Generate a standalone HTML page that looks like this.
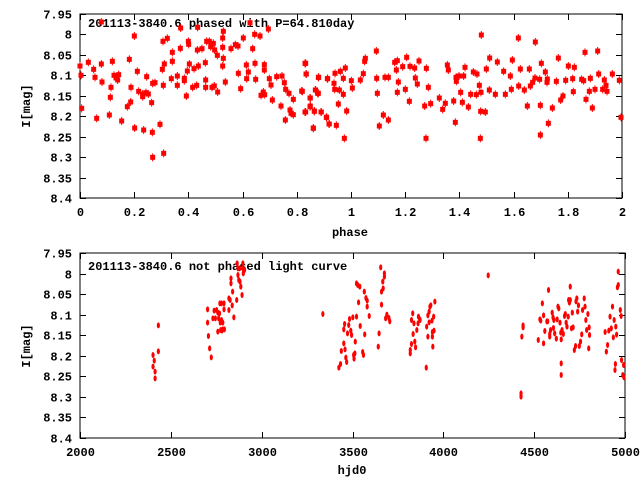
<!DOCTYPE html>
<html><head><meta charset="utf-8"><style>
body{margin:0;background:#fff}
svg{display:block}
text{font-family:"Liberation Mono","DejaVu Sans Mono",monospace;font-size:12px;font-weight:bold;fill:#000}
</style></head><body>
<svg id="s" width="640" height="480" xmlns="http://www.w3.org/2000/svg">
<rect x="80" y="14" width="542" height="184" fill="none" stroke="#000" stroke-width="1"/>
<rect x="80" y="253" width="545" height="185" fill="none" stroke="#000" stroke-width="1"/>
<g id="ticks" stroke="#000" stroke-width="1"></g>
<g id="labels"></g>
<text x="88" y="27">201113-3840.6 phased with P=64.810day</text>
<text x="88" y="270">201113-3840.6 not phased light curve</text>
<text x="350" y="236" text-anchor="middle">phase</text>
<text x="352" y="474" text-anchor="middle">hjd0</text>
<text transform="translate(30,106) rotate(-90)" text-anchor="middle">I[mag]</text>
<text transform="translate(30,346) rotate(-90)" text-anchor="middle">I[mag]</text>
<g id="pts" fill="#f00" stroke="#f00"></g>
</svg>
<script>
var NS="http://www.w3.org/2000/svg";
function el(p,t,a,txt){var e=document.createElementNS(NS,t);for(var k in a)e.setAttribute(k,a[k]);if(txt!==undefined)e.textContent=txt;document.getElementById(p).appendChild(e);}
var ylab=["7.95","8","8.05","8.1","8.15","8.2","8.25","8.3","8.35","8.4"];
// top
for(var i=0;i<10;i++){var y=14+i*184/9;y=Math.round(y)+0.5;
 el("ticks","line",{x1:80,x2:86,y1:y,y2:y});el("ticks","line",{x1:616,x2:622,y1:y,y2:y});
 el("labels","text",{x:72,y:y+4,"text-anchor":"end"},ylab[i]);}
var xl=["0","0.2","0.4","0.6","0.8","1","1.2","1.4","1.6","1.8","2"];
for(var i=0;i<11;i++){var x=Math.round(80+i*54.2)+0.5;
 el("ticks","line",{x1:x,x2:x,y1:14,y2:20});el("ticks","line",{x1:x,x2:x,y1:192,y2:198});
 el("labels","text",{x:x,y:216,"text-anchor":"middle"},xl[i]);}
// bottom
for(var i=0;i<10;i++){var y=253+i*185/9;y=Math.round(y)+0.5;
 el("ticks","line",{x1:80,x2:86,y1:y,y2:y});el("ticks","line",{x1:619,x2:625,y1:y,y2:y});
 el("labels","text",{x:72,y:y+4,"text-anchor":"end"},ylab[i]);}
var xb=["2000","2500","3000","3500","4000","4500","5000"];
for(var i=0;i<7;i++){var x=Math.round(80+i*545/6)+0.5;
 el("ticks","line",{x1:x,x2:x,y1:253,y2:259});el("ticks","line",{x1:x,x2:x,y1:432,y2:438});
 el("labels","text",{x:x,y:456,"text-anchor":"middle"},xb[i]);}
var z1=[[240,198],[243,226],[245,325],[265,187],[281,208],[285,232],[290,355],[304,192],[304,66],[306,246],[328,345],[333,262],[331,292],[337,184],[342,226],[348,234],[353,240],[356,224],[365,363],[388,178],[393,262],[392,306],[382,320],[403,108],[404,384],[412,214],[416,274],[428,282],[428,290],[431,390],[438,278],[440,230],[445,282],[455,308],[457,397],[458,472],[458,250],[465,248],[480,373],[487,208],[490,256],[489,124],[493,192],[502,115],[491,460],[514,236],[517,184],[517,157],[532,256],[532,228],[541,145],[542,84],[553,235],[553,242],[559,288],[562,213],[565,124],[566,133],[568,192],[578,262],[582,206],[590,256],[592,150],[593,82],[595,198],[606,146],[616,188],[617,240],[617,262],[620,124],[628,124],[632,140],[636,262],[640,130],[643,258],[644,150],[652,166],[653,276],[668,114],[668,142],[668,198],[670,175],[670,94],[676,246],[693,146],[706,134],[714,138],[715,220],[722,266],[730,114],[739,195],[740,236],[745,216],[750,68],[758,146],[764,103],[765,190],[767,238],[780,108],[783,286],[790,276],[793,194],[793,210],[794,284],[805,87],[808,236],[813,255],[817,300],[830,230],[846,228],[843,318],[853,248],[856,360],[857,268],[867,280],[870,330],[873,340],[880,298],[880,344],[907,274],[915,336],[915,190],[918,222],[930,320],[930,294],[940,384],[943,334],[946,270],[953,280],[955,232],[963,336],[980,352],[982,236],[987,372]];
var z2=[[5,273],[17,190],[19,222],[17,336],[31,294],[31,318],[40,385],[43,333],[47,270],[55,280],[56,232],[64,336],[79,352],[83,236],[88,372],[102,250],[105,220],[104,268],[109,376],[115,312],[118,270],[121,214],[130,283],[130,235],[136,204],[133,415],[140,333],[154,242],[157,264],[181,240],[190,221],[194,184],[196,175],[229,153],[230,235],[232,280],[238,378],[250,345],[255,232],[265,232],[265,360],[284,187],[289,210],[292,182],[292,277],[295,246],[308,200],[316,268],[320,172],[328,304],[330,199],[344,204],[346,234],[352,252],[357,183],[374,318],[379,205],[378,415],[385,262],[392,311],[418,294],[428,328],[436,310],[442,195],[445,210],[461,303],[466,367],[468,232],[469,244],[477,228],[482,277],[487,307],[491,228],[495,202],[505,321],[512,283],[520,216],[529,284],[531,222],[538,256],[541,415],[542,334],[543,277],[544,105],[556,336],[559,207],[568,270],[569,174],[586,283],[592,186],[611,214],[616,283],[631,228],[637,180],[634,268],[655,114],[656,258],[661,207],[673,270],[682,318],[688,207],[691,258],[698,247],[706,126],[705,234],[719,238],[721,405],[721,316],[724,190],[736,216],[741,247],[742,237],[745,370],[757,324],[769,244],[775,174],[782,300],[789,288],[797,241],[805,198],[818,236],[820,275],[823,202],[845,238],[851,242],[855,157],[858,298],[868,274],[871,235],[877,324],[885,268],[893,153],[896,222],[908,268],[913,240],[918,256],[921,274],[937,222],[958,241],[963,352]];
function sq(x,y){el("pts","rect",{x:x-2.5,y:y-2.5,width:5,height:5,stroke:"none"});el("pts","line",{x1:x,x2:x,y1:y-4,y2:y+4,"stroke-width":1});}
z1.forEach(function(p){sq(p[0]/3,p[1]/3);});
z2.forEach(function(p){sq(p[0]/3+300,p[1]/3);});
var z3=[[373,345],[373,380],[376,362],[378,395],[378,415],[386,256],[386,334],[506,208],[506,248],[508,288],[511,325],[515,352],[519,235],[522,212],[525,235],[528,210],[531,218],[533,235],[531,275],[536,190],[537,248],[535,220],[538,270],[540,240],[540,190],[543,248],[543,268],[541,272],[546,190],[546,208],[547,268],[558,210],[558,175],[561,180],[563,115],[563,130],[566,196],[567,155],[570,232],[577,180],[578,70],[580,85],[580,105],[582,120],[584,85],[585,125],[587,140],[590,165],[592,70],[593,100],[592,85],[596,90],[787,222],[826,383],[830,372],[832,333],[838,268],[838,310],[840,252],[841,328],[843,353],[845,366],[847,280],[850,255],[852,237],[855,272],[857,285],[860,232],[862,345],[863,356],[865,340],[866,305],[869,230],[869,130],[872,135],[874,187],[877,140],[878,258],[884,336],[886,345],[888,155],[889,283],[892,174],[895,182],[895,200],[900,228],[924,280],[922,320],[928,82],[930,155],[930,194],[933,125],[934,145],[937,110],[937,100],[940,235],[943,224],[948,234],[950,244],[1000,340],[1000,330],[1003,312],[1003,240],[1007,282],[1006,220],[1009,250],[1011,305],[1013,322],[1016,270],[1019,250],[1020,230],[1023,238],[1024,240],[1039,383],[1040,260],[1043,226],[1043,290],[1046,247],[1046,215],[1048,200],[1050,196],[1053,242],[1054,276],[1054,290],[1055,320],[1057,230],[1058,272],[1060,185],[1190,106],[1270,460],[1270,470],[1272,290],[1275,256],[1275,262],[1312,300],[1316,238],[1318,242],[1322,190],[1325,226],[1325,310],[1328,273],[1333,244],[1335,244],[1337,150],[1340,290],[1340,282],[1342,270],[1346,218],[1348,232],[1349,264],[1350,240],[1352,280],[1356,296],[1358,238],[1360,200],[1362,205],[1365,248],[1367,278],[1368,370],[1368,405],[1368,298],[1370,270],[1373,282],[1376,228],[1378,222],[1380,248],[1382,260],[1385,230],[1386,180],[1388,188],[1390,140],[1390,180],[1393,265],[1395,218],[1397,262],[1400,330],[1403,318],[1404,184],[1406,175],[1408,215],[1410,196],[1412,318],[1415,305],[1418,283],[1420,210],[1424,175],[1426,200],[1428,240],[1430,270],[1433,222],[1435,325],[1436,262],[1437,285],[1475,276],[1478,335],[1481,315],[1484,272],[1487,230],[1490,265],[1493,200],[1495,292],[1497,240],[1499,390],[1500,372],[1501,260],[1503,284],[1505,142],[1507,135],[1507,95],[1512,210],[1514,228],[1515,360],[1518,405],[1520,375],[1521,412]];
z3.forEach(function(p){el("pts","ellipse",{cx:p[0]/2.4375,cy:p[1]/3+240,rx:1.6,ry:3,stroke:"none"});});
</script>
</body></html>
